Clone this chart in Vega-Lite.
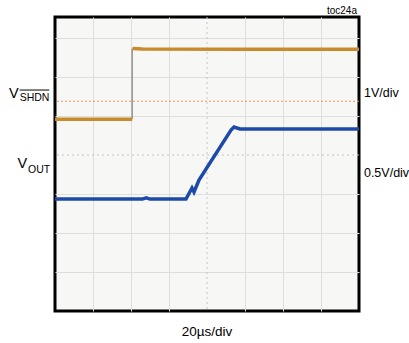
{
  "$schema": "https://vega.github.io/schema/vega-lite/v6.json",
  "width": 304,
  "height": 294,
  "autosize": "none",
  "padding": {"left": 55, "top": 17, "right": 50, "bottom": 32},
  "background": "white",
  "config": {
    "view": {"stroke": "black", "strokeWidth": 3, "fill": "#f7f8f5"},
    "font": "Liberation Sans"
  },
  "datasets": {
    "orange": [
      {"seg": "low", "x": 0, "y": 4.92},
      {"seg": "low", "x": 2.03, "y": 4.92},
      {"seg": "high", "x": 2.04, "y": 6.73},
      {"seg": "high", "x": 2.3, "y": 6.72},
      {"seg": "high", "x": 5.0, "y": 6.71},
      {"seg": "high", "x": 8, "y": 6.71}
    ],
    "blue": [
      {"x": 0, "y": 2.87},
      {"x": 2.3, "y": 2.87},
      {"x": 2.4, "y": 2.9},
      {"x": 2.5, "y": 2.87},
      {"x": 3.447, "y": 2.87},
      {"x": 3.605, "y": 3.154},
      {"x": 3.658, "y": 3.051},
      {"x": 3.789, "y": 3.359},
      {"x": 4.632, "y": 4.641},
      {"x": 4.711, "y": 4.718},
      {"x": 4.868, "y": 4.667},
      {"x": 8, "y": 4.667}
    ],
    "mainV": [
      {"label": "V", "x": -1.21, "y": 5.46},
      {"label": "V", "x": -0.99, "y": 3.667}
    ],
    "subs": [
      {"label": "SHDN", "x": -0.93, "y": 5.385},
      {"label": "OUT", "x": -0.71, "y": 3.538}
    ],
    "right": [
      {"label": "1V/div", "x": 8.13, "y": 5.487},
      {"label": "0.5V/div", "x": 8.13, "y": 3.436}
    ]
  },
  "layer": [
    {
      "data": {"values": [{"x": 4}]},
      "mark": {"type": "rule", "color": "#c4c4c4", "strokeDash": [2, 3], "strokeWidth": 1},
      "encoding": {
        "x": {
          "field": "x", "type": "quantitative",
          "scale": {"domain": [0, 8], "nice": false, "zero": false},
          "axis": {"grid": true, "values": [1, 2, 3, 5, 6, 7], "labels": false, "ticks": false, "domain": false, "title": null, "gridColor": "#dedede", "gridWidth": 1}
        }
      }
    },
    {
      "data": {"values": [{"y": 4}]},
      "mark": {"type": "rule", "color": "#c4c4c4", "strokeDash": [2, 3], "strokeWidth": 1},
      "encoding": {
        "y": {
          "field": "y", "type": "quantitative",
          "scale": {"domain": [0, 7.54], "nice": false, "zero": false},
          "axis": {"grid": true, "values": [1, 2, 3, 5, 6, 7], "labels": false, "ticks": false, "domain": false, "title": null, "gridColor": "#dedede", "gridWidth": 1}
        }
      }
    },
    {
      "data": {"values": [{"y": 5.38}]},
      "mark": {"type": "rule", "color": "#f2906a", "strokeDash": [2, 2], "strokeWidth": 1},
      "encoding": {"y": {"field": "y", "type": "quantitative"}}
    },
    {
      "data": {"values": [{"x": 2.03, "y": 4.92, "y2": 6.73}]},
      "mark": {"type": "rule", "color": "#666666", "strokeWidth": 1},
      "encoding": {
        "x": {"field": "x", "type": "quantitative"},
        "y": {"field": "y", "type": "quantitative"},
        "y2": {"field": "y2"}
      }
    },
    {
      "data": {"name": "orange"},
      "mark": {"type": "line", "color": "#c98a2c", "strokeWidth": 3.5},
      "encoding": {
        "x": {"field": "x", "type": "quantitative"},
        "y": {"field": "y", "type": "quantitative"},
        "detail": {"field": "seg"}
      }
    },
    {
      "data": {"name": "blue"},
      "mark": {"type": "line", "color": "#1d4aa8", "strokeWidth": 3.5},
      "encoding": {
        "x": {"field": "x", "type": "quantitative"},
        "y": {"field": "y", "type": "quantitative"}
      }
    },
    {
      "data": {"name": "mainV"},
      "mark": {"type": "text", "align": "left", "baseline": "alphabetic", "fontSize": 14.5, "color": "black"},
      "encoding": {
        "x": {"field": "x", "type": "quantitative"},
        "y": {"field": "y", "type": "quantitative"},
        "text": {"field": "label"}
      }
    },
    {
      "data": {"name": "subs"},
      "mark": {"type": "text", "align": "left", "baseline": "alphabetic", "fontSize": 10.5, "color": "black"},
      "encoding": {
        "x": {"field": "x", "type": "quantitative"},
        "y": {"field": "y", "type": "quantitative"},
        "text": {"field": "label"}
      }
    },
    {
      "data": {"values": [{"x": -0.93, "x2": -0.15, "y": 5.667}]},
      "mark": {"type": "rule", "color": "black", "strokeWidth": 1},
      "encoding": {
        "x": {"field": "x", "type": "quantitative"},
        "x2": {"field": "x2"},
        "y": {"field": "y", "type": "quantitative"}
      }
    },
    {
      "data": {"name": "right"},
      "mark": {"type": "text", "align": "left", "baseline": "alphabetic", "fontSize": 12.5, "color": "black"},
      "encoding": {
        "x": {"field": "x", "type": "quantitative"},
        "y": {"field": "y", "type": "quantitative"},
        "text": {"field": "label"}
      }
    },
    {
      "data": {"values": [{"label": "20µs/div", "x": 4.0, "y": -0.641}]},
      "mark": {"type": "text", "align": "center", "baseline": "alphabetic", "fontSize": 13.5, "color": "black"},
      "encoding": {
        "x": {"field": "x", "type": "quantitative"},
        "y": {"field": "y", "type": "quantitative"},
        "text": {"field": "label"}
      }
    },
    {
      "data": {"values": [{"label": "toc24a", "x": 7.947, "y": 7.615}]},
      "mark": {"type": "text", "align": "right", "baseline": "alphabetic", "fontSize": 10, "color": "black"},
      "encoding": {
        "x": {"field": "x", "type": "quantitative"},
        "y": {"field": "y", "type": "quantitative"},
        "text": {"field": "label"}
      }
    }
  ]
}
